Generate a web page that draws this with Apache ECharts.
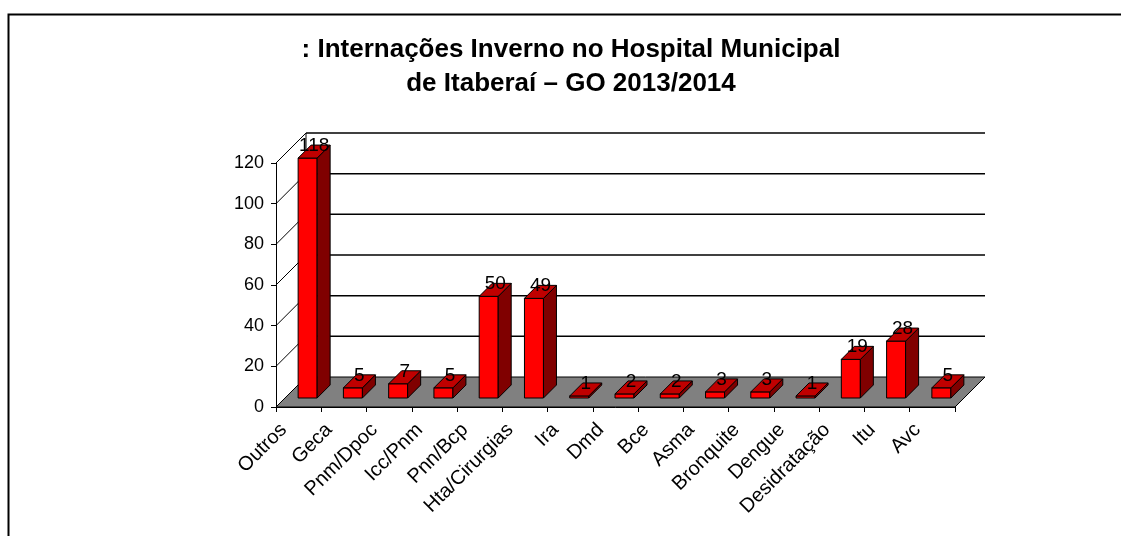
<!DOCTYPE html>
<html><head><meta charset="utf-8">
<script src="https://cdn.jsdelivr.net/npm/echarts@6/dist/echarts.min.js"></script>
<style>html,body{margin:0;padding:0;background:#fff}#c{width:1121px;height:536px}</style>
</head><body><div id="c"></div>
<script>
const categories = ['Outros','Geca','Pnm/Dpoc','Icc/Pnm','Pnn/Bcp','Hta/Cirurgias','Ira','Dmd','Bce','Asma','Bronquite','Dengue','Desidratação','Itu','Avc'];
const values = [118,5,7,5,50,49,1,2,2,3,3,1,19,28,5];
const yTicks = [0,20,40,60,80,100,120];
const titleLines = [': Internações Inverno no Hospital Municipal', 'de Itaberaí – GO 2013/2014'];

const FONT = '"Liberation Sans", Arial, sans-serif';
const DEPTH = 30, BAR_D0 = 9, BAR_D1 = 22, BAR_W = 19;

function renderWalls(params, api) {
  const bw = api.size([1, 0])[0];
  const x0 = api.coord([0, 0])[0] - bw / 2;
  const x1 = api.coord([categories.length - 1, 0])[0] + bw / 2;
  const y0 = api.coord([0, 0])[1];
  const children = [];
  children.push({type: 'polygon', shape: {points: [[x0, y0], [x1, y0], [x1 + DEPTH, y0 - DEPTH], [x0 + DEPTH, y0 - DEPTH]]},
    style: {fill: '#808080', stroke: '#000', lineWidth: 1}});
  yTicks.forEach(v => {
    const y = api.coord([0, v])[1];
    children.push({type: 'line', shape: {x1: x0, y1: y, x2: x0 + DEPTH, y2: y - DEPTH}, style: {stroke: '#000', lineWidth: 1}});
    if (v > 0) children.push({type: 'line', shape: {x1: x0 + DEPTH, y1: y - DEPTH, x2: x1 + DEPTH, y2: y - DEPTH}, style: {stroke: '#000', lineWidth: 1.5}});
  });
  const yTop = api.coord([0, yTicks[yTicks.length - 1]])[1];
  children.push({type: 'line', shape: {x1: x0 + DEPTH, y1: y0 - DEPTH, x2: x0 + DEPTH, y2: yTop - DEPTH}, style: {stroke: '#000', lineWidth: 1}});
  return {type: 'group', children};
}

function renderBar(params, api) {
  const i = api.value(0), v = api.value(1);
  const c = api.coord([i, 0]);
  const t = api.coord([i, v]);
  const xl = c[0] - BAR_W / 2, xr = c[0] + BAR_W / 2;
  const yb = c[1], yt = t[1];
  const p = (x, y, d) => [x + d, y - d];
  const st = (f) => ({fill: f, stroke: '#000', lineWidth: 1});
  const lp = p(c[0], yt, (BAR_D0 + BAR_D1) / 2);
  return {type: 'group', children: [
    {type: 'polygon', shape: {points: [p(xl, yb, BAR_D0), p(xr, yb, BAR_D0), p(xr, yt, BAR_D0), p(xl, yt, BAR_D0)]}, style: st('#FF0000')},
    {type: 'polygon', shape: {points: [p(xr, yb, BAR_D0), p(xr, yb, BAR_D1), p(xr, yt, BAR_D1), p(xr, yt, BAR_D0)]}, style: st('#800000')},
    {type: 'polygon', shape: {points: [p(xl, yt, BAR_D0), p(xr, yt, BAR_D0), p(xr, yt, BAR_D1), p(xl, yt, BAR_D1)]}, style: st('#C00000')},
    {type: 'text', x: lp[0], y: lp[1] - 6, style: {text: String(v), fill: '#000', font: '19px ' + FONT, align: 'center', verticalAlign: 'middle'}}
  ]};
}

const chart = echarts.init(document.getElementById('c'), null, {renderer: 'canvas'});
chart.setOption({
  backgroundColor: '#fff',
  animation: false,
  title: {text: titleLines.join('\n'), left: 571, top: 33, textAlign: 'center', padding: 0,
    textStyle: {fontSize: 26, fontWeight: 'bold', fontFamily: FONT, color: '#000', lineHeight: 34}},
  graphic: [{type: 'rect', left: 6, top: 12, shape: {x: 0, y: 0, width: 1300, height: 700}, style: {fill: 'none', stroke: '#000', lineWidth: 2}, z: -10}],
  grid: {left: 276, right: 166, top: 163, bottom: 129, containLabel: false},
  xAxis: {type: 'category', data: categories,
    axisLine: {lineStyle: {color: '#000', width: 1}},
    axisTick: {show: true, length: 5, lineStyle: {color: '#000'}},
    axisLabel: {rotate: 45, interval: 0, fontSize: 20, fontFamily: FONT, color: '#000', margin: 5, padding: [0, 21, 0, 0]},
    splitLine: {show: false}},
  yAxis: {type: 'value', min: 0, max: 120, interval: 20,
    axisLine: {show: true, lineStyle: {color: '#000', width: 1}},
    axisTick: {show: true, length: 5, lineStyle: {color: '#000'}},
    axisLabel: {fontSize: 18, fontFamily: FONT, color: '#000', margin: 12},
    splitLine: {show: false}},
  series: [
    {type: 'custom', renderItem: renderWalls, data: [[0, 0]], z: 1, clip: false, silent: true},
    {type: 'custom', renderItem: renderBar, data: values.map((v, i) => [i, v]), z: 3, clip: false, encode: {x: 0, y: 1}}
  ]
});
</script></body></html>
